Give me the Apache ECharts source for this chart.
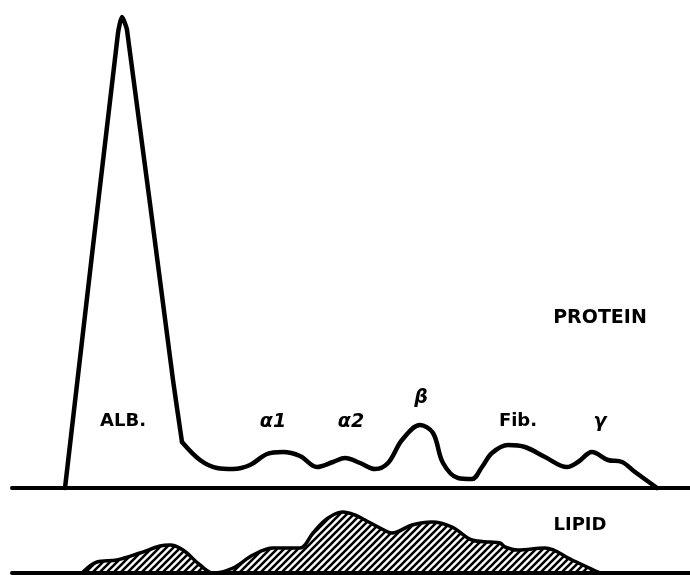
<!DOCTYPE html>
<html>
<head>
<meta charset="utf-8">
<script src="https://cdn.jsdelivr.net/npm/echarts@6/dist/echarts.min.js"></script>
<style>
html,body{margin:0;padding:0;background:#fff;}
#main{width:690px;height:575px;}
</style>
</head>
<body>
<div id="main"></div>
<script>
// protein trace: [x position, height above baseline]
var albuminData = [[65,0],[118,455],[122,471],[127,458],[173,108],[182,46]];
var proteinData = [[182,46],[200,28],[217,20],[233,19],[250,23],[267,34],[283,36],[300,32],[317,21],[333,26],[345,30],[360,25],[375,19],[388,25],[402,48],[420,63],[433,55],[443,25],[458,10],[472,9],[482,21],[492,35],[508,43],[525,41],[545,31],[567,21],[578,26],[592,36],[608,28],[622,26],[635,16],[653,3],[657,0]];
// lipid trace
var lipidData = [[82,0],[97,11],[117,13],[140,20],[160,27],[170,28],[183,23],[200,8],[213,0],[233,5],[253,18],[273,25],[300,25],[313,40],[323,51],[333,58],[343,61],[355,58],[365,53],[380,45],[392,40],[412,48],[432,51],[452,46],[472,33],[490,31],[500,30],[505,26],[518,23],[545,25],[572,13],[598,1],[602,0]];
// fraction labels
var fractionNames = ['ALB.', '\u03b11', '\u03b12', '\u03b2', 'Fib.', '\u03b3'];
var fractionPos = [[123,421],[273,422],[351,422],[421,398],[518,421],[600,422]];

// hatch pattern for lipid area
var hatch = document.createElement('canvas');
hatch.width = 7; hatch.height = 7;
var hc = hatch.getContext('2d');
hc.strokeStyle = '#000';
hc.lineWidth = 2.6;
hc.beginPath();
hc.moveTo(-1, 8); hc.lineTo(8, -1);
hc.moveTo(-4, 4); hc.lineTo(4, -4);
hc.moveTo(3, 11); hc.lineTo(11, 3);
hc.stroke();

var myChart = echarts.init(document.getElementById('main'));

var graphics = [];
for (var i = 0; i < fractionNames.length; i++) {
	var greek = i == 1 || i == 2 || i == 3 || i == 5;
	graphics.push({
		type: 'text', x: fractionPos[i][0], y: fractionPos[i][1],
		style: {
			text: fractionNames[i], fill: '#000',
			font: (greek ? 'italic bold 19px ' : 'bold 18px ') + '"DejaVu Sans"',
			textAlign: 'center', textVerticalAlign: 'middle'
		}
	});
}
graphics.push({type: 'text', x: 600, y: 318, style: {text: 'PROTEIN', fill: '#000', font: 'bold 19px "DejaVu Sans"', textAlign: 'center', textVerticalAlign: 'middle'}});
graphics.push({type: 'text', x: 580, y: 525, style: {text: 'LIPID', fill: '#000', font: 'bold 18px "DejaVu Sans"', textAlign: 'center', textVerticalAlign: 'middle'}});

var axisCommon = {
	type: 'value',
	min: 12, max: 690,
	axisLine: {show: true, onZero: false, lineStyle: {color: '#000', width: 4}},
	axisTick: {show: false},
	axisLabel: {show: false},
	splitLine: {show: false}
};

option = {
	animation: false,
	backgroundColor: '#fff',
	grid: [
		{left: 12, right: 0, top: 0, height: 488},
		{left: 12, right: 0, top: 490, height: 83}
	],
	xAxis: [
		Object.assign({gridIndex: 0}, axisCommon),
		Object.assign({gridIndex: 1}, axisCommon)
	],
	yAxis: [
		{type: 'value', gridIndex: 0, min: 0, max: 488, show: false},
		{type: 'value', gridIndex: 1, min: 0, max: 83, show: false}
	],
	graphic: graphics,
	series: [
		{
			name: 'albumin', type: 'line', xAxisIndex: 0, yAxisIndex: 0,
			data: albuminData, smooth: 0.2, symbol: 'none', clip: false,
			lineStyle: {color: '#000', width: 4.5, join: 'round', cap: 'round'}
		},
		{
			name: 'protein', type: 'line', xAxisIndex: 0, yAxisIndex: 0,
			data: proteinData, smooth: 0.35, symbol: 'none', clip: false,
			lineStyle: {color: '#000', width: 4.5, join: 'round', cap: 'round'}
		},
		{
			name: 'lipid', type: 'line', xAxisIndex: 1, yAxisIndex: 1,
			data: lipidData, smooth: 0.35, symbol: 'none', clip: false,
			lineStyle: {color: '#000', width: 3.5, join: 'round'},
			areaStyle: {color: {image: hatch, repeat: 'repeat'}, opacity: 1}
		}
	]
};
myChart.setOption(option);
</script>
</body>
</html>
